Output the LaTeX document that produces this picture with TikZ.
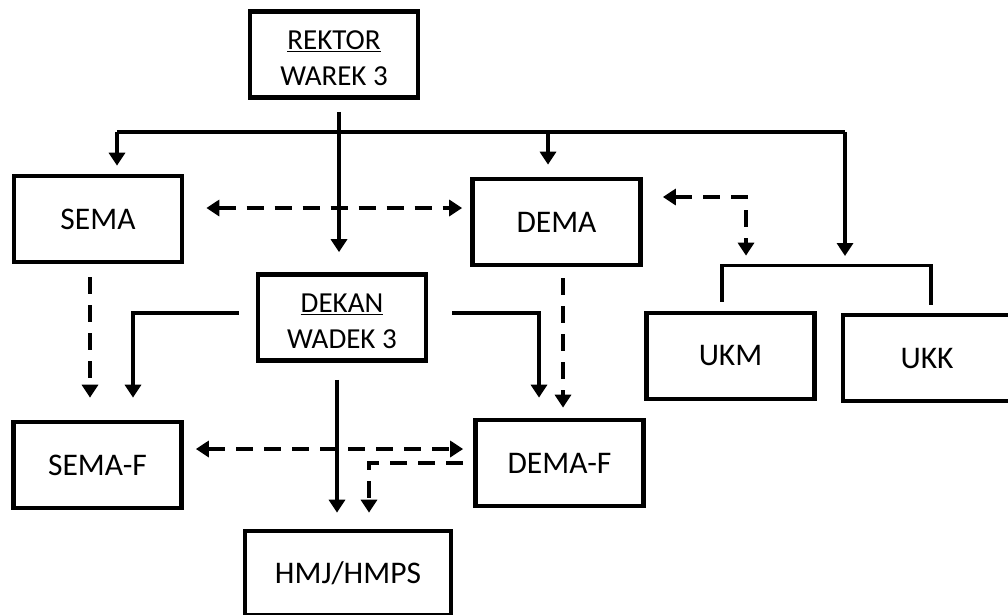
\documentclass[tikz,border=0pt]{standalone}
\usepackage{fontspec}
\setmainfont{Carlito}
\usetikzlibrary{arrows.meta}
\begin{document}
\begin{tikzpicture}[x=1pt,y=1pt,
  box/.style={draw,line width=4.7pt,minimum width=168pt,minimum height=86pt,inner sep=0pt,font=\fontsize{31.5}{37}\selectfont},
  box2/.style={box,font=\fontsize{29}{35.6}\selectfont},
  conn/.style={line width=3.3pt},
  arr/.style={conn,-{Triangle[width=16pt,length=13pt]}},
  darr/.style={arr,dash pattern=on 17pt off 11pt},
  dboth/.style={conn,dash pattern=on 17pt off 11pt,{Triangle[width=16pt,length=13pt]}-{Triangle[width=16pt,length=13pt]}}]
\useasboundingbox (0,0) rectangle (1008,-614);
\clip (0,0) rectangle (1008,-614);
\node[box2] (rektor) at (334,-54.5) {\raisebox{-6pt}[\height][\depth]{\begin{tabular}{@{}c@{}}\underline{REKTOR}\\WAREK 3\end{tabular}}};
\node[box] (sema) at (98,-219) {SEMA};
\node[box] (dema) at (556.5,-222) {DEMA};
\node[box2] (dekan) at (342,-317.5) {\raisebox{-6pt}[\height][\depth]{\begin{tabular}{@{}c@{}}\underline{DEKAN}\\WADEK 3\end{tabular}}};
\node[box] (ukm) at (730.5,-356) {UKM};
\node[box] (ukk) at (927,-358) {UKK};
\node[box] (semaf) at (97.5,-465) {SEMA-F};
\node[box] (demaf) at (559.5,-463) {DEMA-F};
\node[box,minimum width=206pt,minimum height=84pt] (hmj) at (348,-573) {HMJ/HMPS};
\coordinate (busL) at (117,-132);
\coordinate (busD) at (548,-132);
\coordinate (busR) at (845,-132);
% garis komando
\draw[arr] ([xshift=5pt,yshift=-12pt]rektor.south)--([xshift=-3pt,yshift=20pt]dekan.north);
\draw[conn] (busL)--(busR);
\draw[arr] (busL)--([xshift=19pt,yshift=8pt]sema.north);
\draw[arr] (busD)--([xshift=-8.5pt,yshift=12pt]dema.north);
\draw[arr] (busR)--++(0,-124);
\draw[conn] ([xshift=-8.5pt,yshift=9pt]ukm.north)--++(0,36)-|([xshift=4pt,yshift=8pt]ukk.north);
\draw[arr] ([xshift=-17pt,yshift=4.5pt]dekan.west)-|([xshift=35.5pt,yshift=22pt]semaf.north);
\draw[arr] ([xshift=24pt,yshift=4.5pt]dekan.east)-|([xshift=-20.5pt,yshift=20pt]demaf.north);
\draw[arr] ([xshift=-5pt,yshift=-17pt]dekan.south)--([xshift=-11pt,yshift=16pt]hmj.north);
% garis koordinasi
\draw[dboth] ([xshift=22pt,yshift=11pt]sema.east)--([xshift=-8pt,yshift=14pt]dema.west);
\draw[dboth] ([xshift=20pt,yshift=25pt]dema.east)-|([xshift=15.5pt,yshift=55pt]ukm.north);
\draw[darr] ([xshift=-8pt,yshift=-13pt]sema.south)--([xshift=-7.5pt,yshift=22pt]semaf.north);
\draw[darr] ([xshift=6.5pt,yshift=-11pt]dema.south)--([xshift=3.5pt,yshift=10pt]demaf.north);
\draw[dboth] ([xshift=12pt,yshift=16pt]semaf.east)--([xshift=-10pt,yshift=14pt]demaf.west);
\draw[darr] ([xshift=-10pt]demaf.west)-|([xshift=21pt,yshift=16pt]hmj.north);
\end{tikzpicture}
\end{document}
